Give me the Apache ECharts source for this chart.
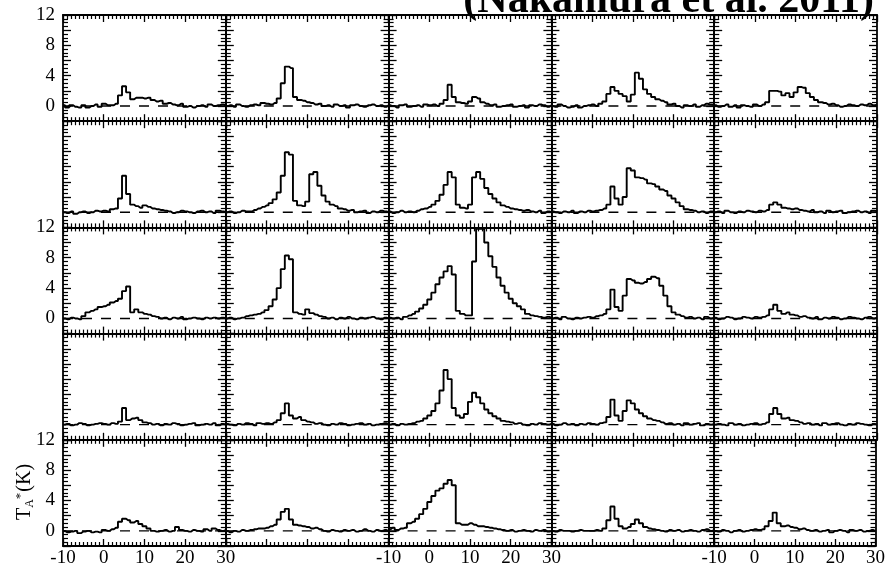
<!DOCTYPE html>
<html>
<head>
<meta charset="utf-8">
<script src="https://cdn.jsdelivr.net/npm/echarts@6/dist/echarts.min.js"></script>
<style>
  html, body { margin: 0; padding: 0; background: #fff; }
  #chart { width: 888px; height: 569px; }
</style>
</head>
<body>
<div id="chart"></div>
<script>
// Channel velocities (km/s) shared by every spectrum
const velocity = [-10, -9, -8, -7, -6, -5, -4, -3, -2, -1,
  0, 1, 2, 3, 4, 5, 6, 7, 8, 9,
  10, 11, 12, 13, 14, 15, 16, 17, 18, 19,
  20, 21, 22, 23, 24, 25, 26, 27, 28, 29, 30];

// Antenna temperature TA* (K) per channel, one array per map position (row r, column c)
const T_r1c1 = [0.1,-0.2,0.1,-0.1,-0.2,0.1,-0.2,0.0,0.2,-0.1, 0.3,0.1,0.1,0.3,1.4,2.6,1.8,0.9,1.1,1.1, 1.0,1.1,0.8,0.6,0.7,0.3,0.4,0.2,0.1,0.3, -0.1,0.0,-0.2,0.0,0.1,-0.1,0.2,0.0,0.1,0.2, 0.1];
const T_r1c2 = [0.0,0.1,-0.1,0.2,0.0,-0.1,0.1,0.2,0.1,0.4, 0.3,0.2,0.4,1.0,3.0,5.2,5.0,1.2,0.8,0.7, 0.5,0.4,0.2,0.3,0.0,0.1,-0.1,0.2,0.0,0.1, -0.2,0.1,0.2,0.0,-0.1,0.1,0.2,0.0,0.1,-0.1, 0.1];
const T_r1c3 = [0.1,0.0,-0.2,0.1,0.2,-0.1,0.0,0.1,-0.1,0.2, 0.1,0.2,0.0,0.3,0.8,2.8,1.2,0.5,0.4,0.3, 0.6,1.2,1.0,0.5,0.3,0.1,0.2,-0.1,0.0,0.1, 0.2,-0.1,0.0,0.1,-0.2,0.1,0.0,0.2,0.1,-0.1, 0.1];
const T_r1c4 = [0.0,-0.1,0.2,0.0,-0.2,-0.1,0.1,-0.2,0.0,0.1, 0.2,0.0,0.3,0.6,1.6,2.5,2.0,1.6,1.3,0.6, 1.5,4.4,3.6,2.2,1.6,1.2,0.9,0.7,0.5,0.2, 0.3,0.0,-0.2,0.1,0.0,0.2,-0.1,0.1,0.3,0.2, 0.1];
const T_r1c5 = [0.1,-0.1,0.0,0.2,-0.1,0.1,-0.2,0.1,0.0,-0.1, 0.2,0.0,0.2,0.5,2.0,2.0,1.9,1.4,1.7,1.2, 1.8,2.5,2.4,1.7,1.2,0.8,0.5,0.4,0.2,0.3, 0.1,-0.1,0.0,0.2,0.1,0.0,0.2,0.1,0.3,0.1, 0.2];

const T_r2c1 = [0.0,-0.1,0.1,-0.2,0.0,0.1,-0.1,0.0,0.2,0.1, 0.2,0.1,0.4,0.5,1.8,4.8,2.4,1.0,0.8,0.6, 0.9,0.7,0.5,0.4,0.3,0.2,0.1,-0.1,0.0,0.2, 0.1,0.0,-0.1,0.1,0.2,0.0,0.1,-0.1,0.2,0.1, 0.0];
const T_r2c2 = [0.0,0.1,-0.1,0.0,0.2,0.1,0.1,0.3,0.5,0.7, 0.9,1.2,1.7,2.6,4.8,7.9,7.6,1.5,0.9,0.8, 1.4,5.0,5.3,3.5,2.2,1.4,1.0,0.8,0.5,0.4, 0.2,0.3,0.0,0.1,0.2,-0.1,0.1,0.0,0.2,0.1, 0.0];
const T_r2c3 = [0.1,-0.1,0.0,0.2,0.0,0.1,0.0,0.2,0.4,0.5, 0.7,1.0,1.5,2.3,3.6,5.3,4.6,1.0,0.6,0.5, 1.0,4.6,5.3,4.4,3.2,2.4,1.8,1.3,0.9,0.7, 0.5,0.4,0.3,0.2,0.3,0.1,0.0,0.2,-0.1,0.1, 0.0];
const T_r2c4 = [0.1,0.0,-0.1,0.1,0.0,0.2,-0.1,0.1,0.0,0.2, 0.1,0.2,0.3,0.5,1.0,3.4,1.8,1.0,2.0,5.8, 5.5,4.6,4.5,4.3,3.8,3.7,3.4,3.0,2.8,2.2, 1.8,1.3,0.8,0.4,0.3,0.2,0.0,0.1,-0.1,0.1, 0.0];
const T_r2c5 = [0.0,0.1,-0.1,0.2,0.0,-0.1,0.1,0.0,0.2,0.1, 0.0,0.2,0.1,0.3,1.0,1.3,1.0,0.6,0.5,0.4, 0.5,0.3,0.2,0.1,0.3,0.0,0.1,-0.1,0.2,0.0, 0.1,0.2,-0.1,0.0,0.1,0.2,0.0,0.1,-0.1,0.2, 0.1];

const T_r3c1 = [0.0,-0.1,0.1,0.0,-0.1,0.3,0.8,1.0,1.2,1.5, 1.6,1.8,2.1,2.3,2.6,3.6,4.2,0.8,1.2,0.8, 0.6,0.5,0.3,0.2,0.0,0.1,-0.1,0.1,0.0,0.2, -0.1,0.0,0.1,0.0,-0.1,0.1,0.0,0.1,0.0,0.1, 0.0];
const T_r3c2 = [0.0,0.1,-0.1,0.0,0.1,0.3,0.4,0.5,0.6,0.8, 1.1,1.6,2.5,4.0,6.5,8.3,7.8,0.8,0.6,0.5, 1.2,0.7,0.5,0.3,0.2,0.0,0.1,-0.1,0.1,0.0, 0.2,0.0,-0.1,0.1,0.0,0.1,0.2,0.0,-0.1,0.1, 0.0];
const T_r3c3 = [0.1,0.0,0.1,-0.1,0.2,0.4,0.6,0.9,1.3,1.8, 2.5,3.4,4.5,5.4,6.2,6.9,5.8,1.0,0.6,0.4, 0.4,7.5,11.8,11.8,10.0,8.2,6.8,5.4,4.3,3.4, 2.6,2.0,1.6,1.2,0.6,0.4,0.3,0.2,0.1,0.2, 0.1];
const T_r3c4 = [0.0,0.1,-0.1,0.2,0.0,-0.1,0.1,0.0,0.1,0.2, 0.1,0.3,0.4,0.6,1.2,3.8,1.5,1.0,3.0,5.2, 5.0,4.7,4.6,4.8,5.2,5.5,5.3,4.3,3.0,1.6, 0.8,0.5,0.3,0.1,0.2,0.0,0.1,-0.1,0.2,0.0, 0.1];
const T_r3c5 = [0.1,-0.1,0.0,0.2,0.1,-0.1,0.0,0.2,0.1,0.0, 0.2,0.1,0.2,0.4,1.2,1.8,1.0,0.6,0.8,0.5, 0.4,0.2,0.3,0.1,0.0,0.2,-0.1,0.1,0.0,0.2, 0.1,-0.1,0.0,0.2,0.1,0.0,-0.1,0.1,0.2,0.0, 0.1];

const T_r4c1 = [0.0,0.1,-0.1,0.0,0.2,0.1,-0.1,0.0,0.1,0.2, 0.1,0.0,0.2,0.1,0.4,2.2,0.6,0.8,0.9,0.6, 0.3,0.2,0.0,0.1,-0.1,0.1,0.0,0.2,0.1,-0.1, 0.0,0.1,0.2,-0.1,0.0,0.1,0.0,0.2,-0.1,0.1, 0.0];
const T_r4c2 = [0.1,0.0,-0.1,0.1,0.0,0.2,0.1,-0.1,0.2,0.1, 0.2,0.1,0.3,0.6,1.5,2.8,1.2,0.8,1.0,0.6, 0.4,0.3,0.1,0.2,0.0,-0.1,0.1,0.0,0.2,0.1, -0.1,0.0,0.1,0.2,0.0,0.1,-0.1,0.0,0.1,0.2, 0.0];
const T_r4c3 = [0.0,0.1,-0.1,0.1,0.0,0.1,0.2,0.4,0.5,0.8, 1.2,1.8,2.8,4.5,7.2,6.0,2.2,1.2,0.9,1.4, 3.0,4.2,3.6,2.8,2.0,1.5,1.1,0.8,0.5,0.4, 0.3,0.1,0.2,0.0,-0.1,0.1,0.0,0.2,0.1,0.0, 0.1];
const T_r4c4 = [0.1,-0.1,0.0,0.2,0.0,0.1,-0.1,0.1,0.0,0.2, 0.1,0.0,0.2,0.3,1.0,3.3,1.2,0.5,1.8,3.2, 2.8,2.0,1.5,1.1,0.8,0.6,0.5,0.3,0.1,0.2, 0.0,0.1,-0.1,0.2,0.0,0.1,0.2,-0.1,0.1,0.0, 0.1];
const T_r4c5 = [0.0,0.1,0.0,-0.1,0.2,0.0,0.1,-0.1,0.0,0.1, 0.2,0.0,0.1,0.3,1.4,2.2,1.4,0.8,0.9,0.6, 0.5,0.3,0.1,0.2,0.0,0.1,-0.1,0.2,0.0,0.1, 0.2,0.0,-0.1,0.1,0.0,0.2,0.1,0.0,-0.1,0.1, 0.0];

const T_r5c1 = [0.0,-0.2,-0.1,0.0,-0.3,-0.1,0.0,-0.2,-0.1,-0.2, 0.1,0.0,0.2,0.4,1.2,1.6,1.4,1.1,1.3,0.9, 0.6,0.3,0.0,-0.1,0.0,0.1,-0.1,0.0,0.5,0.1, 0.0,-0.1,0.1,0.0,-0.1,0.2,0.0,0.3,0.1,0.0, 0.1];
const T_r5c2 = [0.0,-0.2,0.0,-0.1,0.1,0.0,0.1,0.2,0.3,0.3, 0.4,0.6,0.8,1.5,2.5,2.9,1.5,0.8,0.7,0.6, 0.5,0.3,0.4,0.2,0.0,-0.1,0.1,0.0,-0.1,0.1, 0.0,0.1,-0.1,0.0,0.2,0.0,-0.1,0.1,0.0,0.1, 0.0];
const T_r5c3 = [0.2,0.4,0.1,0.3,0.4,1.0,1.2,1.6,2.2,2.9, 3.8,4.6,5.3,5.6,6.2,6.7,6.0,1.0,0.8,0.8, 1.0,0.8,0.6,0.6,0.5,0.4,0.3,0.2,0.1,0.0, 0.1,-0.1,0.0,0.1,0.0,-0.1,0.1,0.0,0.1,-0.1, 0.0];
const T_r5c4 = [0.0,-0.1,0.1,0.0,0.0,-0.1,0.0,0.1,0.0,0.0, 0.0,0.1,0.0,0.3,1.4,3.2,1.6,0.6,0.3,0.5, 0.9,1.5,1.0,0.5,0.3,0.2,0.1,0.0,-0.1,0.1, 0.0,0.1,-0.1,0.0,0.1,0.0,-0.1,0.1,0.2,0.0, 0.1];
const T_r5c5 = [0.0,-0.1,0.1,0.0,-0.2,0.0,0.1,-0.1,0.0,0.1, 0.2,0.1,0.2,0.6,1.3,2.4,1.0,0.6,0.7,0.5, 0.4,0.2,0.3,0.1,0.0,0.1,-0.1,0.0,0.1,-0.2, 0.0,0.1,0.0,-0.2,0.1,0.0,0.1,-0.1,0.0,0.1, 0.0];

const spectraGrid = [
  [T_r1c1, T_r1c2, T_r1c3, T_r1c4, T_r1c5],
  [T_r2c1, T_r2c2, T_r2c3, T_r2c4, T_r2c5],
  [T_r3c1, T_r3c2, T_r3c3, T_r3c4, T_r3c5],
  [T_r4c1, T_r4c2, T_r4c3, T_r4c4, T_r4c5],
  [T_r5c1, T_r5c2, T_r5c3, T_r5c4, T_r5c5]
];

// Tick labels
const xTickLabels = [-10, 0, 10, 20, 30];
const yTickLabels = [0, 4, 8, 12];
const labelledColumns = [0, 2, 4];   // columns with velocity labels under the bottom row
const labelledRows = [0, 2, 4];      // rows with TA* labels on the left column

const titleText = '(Nakamura et al. 2011)';

// Panel layout (px)
const LEFT = 63, TOP = 15, CELL_W = 162.8, CELL_H = 106.2;
const SERIF = '"Liberation Serif", "Times New Roman", serif';
const INK = '#000';

const grids = [], xAxes = [], yAxes = [], series = [];

function xAxisFor(g, pos, showLabels) {
  return {
    gridIndex: g, type: 'value', position: pos, min: -10, max: 30, interval: 10,
    axisLine: { show: true, onZero: false, lineStyle: { color: INK, width: 1.8 } },
    axisTick: { show: true, inside: true, length: 7, lineStyle: { color: INK, width: 1.3 } },
    minorTick: { show: true, splitNumber: 10, length: 4, lineStyle: { color: INK, width: 1.2 } },
    splitLine: { show: false },
    axisLabel: {
      show: showLabels, color: INK, fontFamily: SERIF, fontSize: 19, margin: 3,
      showMinLabel: true, showMaxLabel: true,
      formatter: v => (xTickLabels.indexOf(v) >= 0 ? String(v) : '')
    }
  };
}

function yAxisFor(g, pos, showLabels) {
  return {
    gridIndex: g, type: 'value', position: pos, min: -2, max: 12, interval: 2,
    axisLine: { show: true, onZero: false, lineStyle: { color: INK, width: 1.8 } },
    axisTick: { show: true, inside: true, length: 8, lineStyle: { color: INK, width: 1.3 } },
    minorTick: { show: true, splitNumber: 4, length: 5, lineStyle: { color: INK, width: 1.2 } },
    splitLine: { show: false },
    axisLabel: {
      show: showLabels, color: INK, fontFamily: SERIF, fontSize: 19, margin: 8,
      showMinLabel: true, showMaxLabel: true,
      formatter: v => (yTickLabels.indexOf(v) >= 0 ? String(v) : '')
    }
  };
}

for (let r = 0; r < 5; r++) {
  for (let c = 0; c < 5; c++) {
    const g = r * 5 + c;
    grids.push({ left: LEFT + c * CELL_W, top: TOP + r * CELL_H, width: CELL_W, height: CELL_H, containLabel: false });

    xAxes.push(xAxisFor(g, 'bottom', r === 4 && labelledColumns.indexOf(c) >= 0));
    xAxes.push(xAxisFor(g, 'top', false));
    yAxes.push(yAxisFor(g, 'left', c === 0 && labelledRows.indexOf(r) >= 0));
    yAxes.push(yAxisFor(g, 'right', false));

    const spec = spectraGrid[r][c];
    series.push({
      type: 'line', xAxisIndex: 2 * g, yAxisIndex: 2 * g,
      data: velocity.map((v, i) => [v, spec[i]]),
      step: 'middle', showSymbol: false, silent: true, animation: false,
      lineStyle: { color: INK, width: 1.9 }
    });
    // zero baseline
    series.push({
      type: 'line', xAxisIndex: 2 * g, yAxisIndex: 2 * g,
      data: [[-10, 0], [30, 0]],
      showSymbol: false, silent: true, animation: false,
      lineStyle: { color: INK, width: 1.4, type: [10, 9] }
    });
  }
}

const chart = echarts.init(document.getElementById('chart'), null, { renderer: 'canvas' });
chart.setOption({
  backgroundColor: '#fff',
  animation: false,
  grid: grids,
  xAxis: xAxes,
  yAxis: yAxes,
  series: series,
  graphic: [
    {
      // figure caption, its upper part running off the top edge
      type: 'text', z: 100,
      style: {
        x: 874, y: 1, text: titleText, align: 'right', verticalAlign: 'middle',
        font: 'bold 42px "Liberation Serif", "Times New Roman", serif', fill: INK
      }
    },
    {
      // TA*(K) axis title beside the bottom-left panel
      type: 'text', z: 100, x: 25, y: 492, rotation: Math.PI / 2,
      style: {
        text: '{t|T}{a|A}{s|*}{t|(K)}', align: 'center', verticalAlign: 'middle',
        rich: {
          t: { fontFamily: SERIF, fontSize: 20, fill: INK },
          a: { fontFamily: SERIF, fontSize: 12, fill: INK, verticalAlign: 'bottom', padding: [9, 0, 0, 0] },
          s: { fontFamily: SERIF, fontSize: 13, fill: INK, verticalAlign: 'top', padding: [0, 1, 7, 0] }
        }
      }
    }
  ]
});
</script>
</body>
</html>
